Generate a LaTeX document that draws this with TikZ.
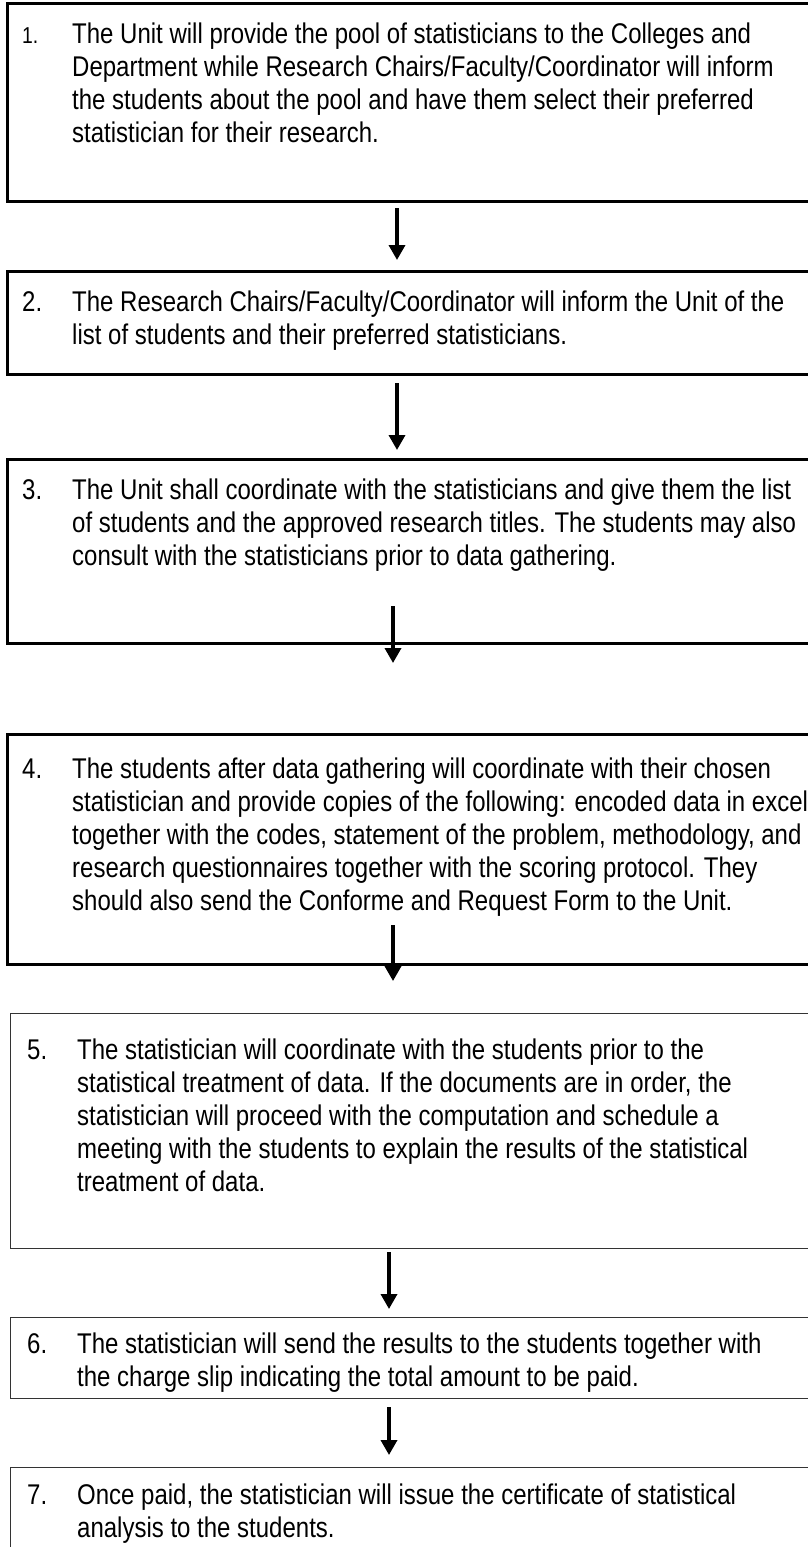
\documentclass[tikz,border=0pt]{standalone}
\usepackage{fontspec}
\setmainfont{Liberation Sans}
\newfontfamily\stepfamily{Liberation Sans}[FakeStretch=0.842]
\usetikzlibrary{arrows.meta}

\newcommand{\stepfont}{\stepfamily\fontsize{28.5}{33}\selectfont}
\newcommand{\steplines}[2]{\begin{tabular}{@{}p{50pt}@{}l@{}}#1 & #2\end{tabular}}

\tikzset{
  boldbox/.style={draw, line width=3pt, rectangle, anchor=north west, minimum width=900pt, inner sep=0pt},
  thinbox/.style={draw=black!80, line width=1.3pt, rectangle, anchor=north west, minimum width=900pt, inner sep=0pt},
  steptext/.style={anchor=north west, inner sep=0pt, font=\stepfont},
  flowarrow/.style={-{Triangle[width=16pt,length=15pt]}, line width=3.5pt}
}

\begin{document}
\begin{tikzpicture}[x=1pt, y=-1pt]

\useasboundingbox (0,0) rectangle (808,1547);
\clip (0,0) rectangle (808,1547);

\coordinate (colA) at (397,0);
\coordinate (colB) at (393,0);
\coordinate (colC) at (389,0);

% boxes
\node[boldbox, minimum height=198pt] (box1) at (6,2) {};
\node[boldbox, minimum height=103pt] (box2) at (6,270) {};
\node[boldbox, minimum height=184pt] (box3) at (6,458) {};
\node[boldbox, minimum height=230pt] (box4) at (6,733) {};
\node[thinbox, minimum height=235pt] (box5) at (10,1013) {};
\node[thinbox, minimum height=81pt] (box6) at (10,1317) {};
\node[thinbox, minimum height=120pt] (box7) at (10,1467) {};

% texts
\node[steptext] (text1) at (22,20) {\steplines{{\fontsize{23}{33}\selectfont 1.}}{The Unit will provide the pool of statisticians to the Colleges and\\
 & Department while Research Chairs/Faculty/Coordinator will inform\\
 & the students about the pool and have them select their preferred\\
 & statistician for their research.}};
\node[steptext] (text2) at (22,288) {\steplines{2.}{The Research Chairs/Faculty/Coordinator will inform the Unit of the\\
 & list of students and their preferred statisticians.}};
\node[steptext] (text3) at (22,476) {\steplines{3.}{The Unit shall coordinate with the statisticians and give them the list\\
 & of students and the approved research titles. The students may also\\
 & consult with the statisticians prior to data gathering.}};
\node[steptext] (text4) at (22,755) {\steplines{4.}{The students after data gathering will coordinate with their chosen\\
 & statistician and provide copies of the following: encoded data in excel\\
 & together with the codes, statement of the problem, methodology, and\\
 & research questionnaires together with the scoring protocol. They\\
 & should also send the Conforme and Request Form to the Unit.}};
\node[steptext] (text5) at (27,1036) {\steplines{5.}{The statistician will coordinate with the students prior to the\\
 & statistical treatment of data. If the documents are in order, the\\
 & statistician will proceed with the computation and schedule a\\
 & meeting with the students to explain the results of the statistical\\
 & treatment of data.}};
\node[steptext] (text6) at (27,1330) {\steplines{6.}{The statistician will send the results to the students together with\\
 & the charge slip indicating the total amount to be paid.}};
\node[steptext] (text7) at (27,1481) {\steplines{7.}{Once paid, the statistician will issue the certificate of statistical\\
 & analysis to the students.}};

% arrows
\draw[flowarrow, shorten <=5pt, shorten >=10pt] (box1.south -| colA) -- (box2.north -| colA);
\draw[flowarrow, shorten <=7pt, shorten >=8pt] (box2.south -| colA) -- (box3.north -| colA);
\draw[flowarrow, shorten <=-39pt, shorten >=70pt] (box3.south -| colB) -- (box4.north -| colB);
\draw[flowarrow, shorten <=-41pt, shorten >=32pt] (box4.south -| colB) -- (box5.north -| colB);
\draw[flowarrow, shorten <=3pt, shorten >=8pt] (box5.south -| colC) -- (box6.north -| colC);
\draw[flowarrow, shorten <=8pt, shorten >=12pt] (box6.south -| colC) -- (box7.north -| colC);

\end{tikzpicture}
\end{document}
